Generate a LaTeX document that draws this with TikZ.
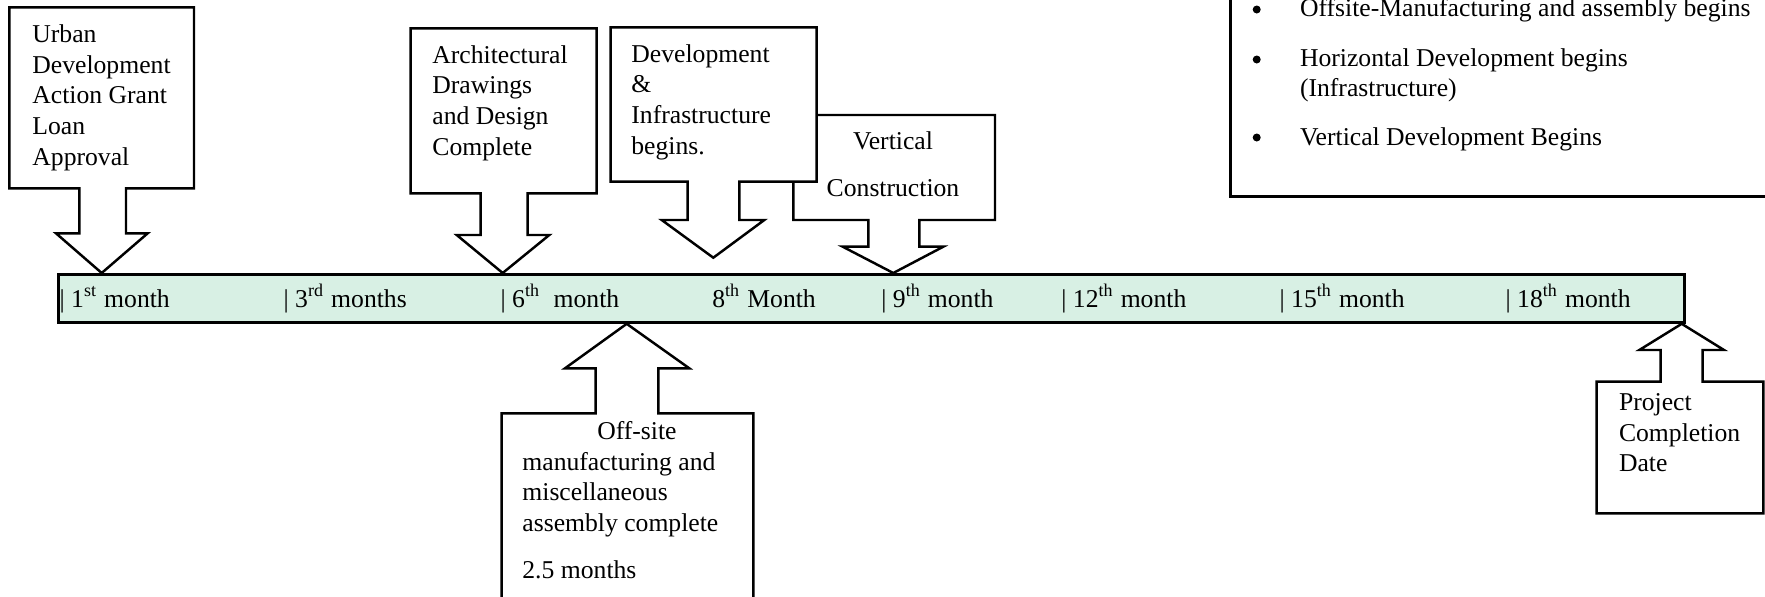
\documentclass[tikz,border=0pt]{standalone}
\usepackage{fontspec}
\setmainfont{Liberation Serif}
\usetikzlibrary{positioning, calc}
\definecolor{barmint}{RGB}{216,240,228}

\begin{document}
\begin{tikzpicture}[x=0.1mm, y=-0.1mm,
    callout/.style={draw, line width=0.7pt, fill=white},
    txt/.style={inner sep=0pt, anchor=base west, align=left,
      font=\fontsize{7.3}{8.7}\selectfont},
    monthlbl/.style={inner sep=0pt, anchor=base west,
      font=\fontsize{7.3}{8.7}\selectfont}]
  \useasboundingbox (0,0) rectangle (1765,597);

  % --- Timeline bar ---
  \node[draw, line width=0.8pt, fill=barmint, inner sep=0pt, anchor=north west,
    minimum width=162.6mm, minimum height=4.8mm] (bar) at (57,273) {};
  \foreach \x/\lbl [count=\i] in {59/{| 1\textsuperscript{st} month},
      283/{| 3\textsuperscript{rd} months}, 500/{| 6\textsuperscript{th}\ \ month},
      711.7/{8\textsuperscript{th} Month}, 880.7/{| 9\textsuperscript{th} month},
      1060.7/{| 12\textsuperscript{th} month}, 1279/{| 15\textsuperscript{th} month},
      1505/{| 18\textsuperscript{th} month}}
    \node[monthlbl] (m\i) at (\x,307) {\lbl};

  % --- Callouts above the bar (text anchored on its last line) ---
  \draw[callout] (9.3,7.3) -- (194,7.3) -- (194,188.3) -- (126,188.3) -- (126,233.3)
    -- (147.7,233.3) -- (101.7,0 |- bar.north) -- (56,233.3) -- (79.3,233.3)
    -- (79.3,188.3) -- (9.3,188.3) -- cycle;
  \node[txt] (urban) at (31.7,165) {Urban\\Development\\Action Grant\\Loan\\Approval};

  \draw[callout] (410.7,28.3) -- (596.7,28.3) -- (596.7,193.3) -- (527.7,193.3)
    -- (527.7,235) -- (549.3,235) -- (502.7,0 |- bar.north) -- (456.7,235)
    -- (480.7,235) -- (480.7,193.3) -- (410.7,193.3) -- cycle;
  \node[txt] (arch) at (431.7,155) {Architectural\\Drawings\\and Design\\Complete};

  % vertical construction sits behind the infrastructure box
  \draw[callout] (793.3,115) -- (995,115) -- (995,220) -- (919.3,220) -- (919.3,246.7)
    -- (943.3,246.7) -- (893.3,0 |- bar.north) -- (842.7,246.7) -- (868.3,246.7)
    -- (868.3,220) -- (793.3,220) -- cycle;
  \node[txt, anchor=base, align=center] (vert) at (893,196.7) {Vertical\\[4.6pt]Construction};

  \draw[callout] (610.7,27.3) -- (816.7,27.3) -- (816.7,181.7) -- (739.3,181.7)
    -- (739.3,220) -- (764.3,220) -- (713.3,257.7) -- (661.7,220) -- (687.7,220)
    -- (687.7,181.7) -- (610.7,181.7) -- cycle;
  \node[txt] (devinfra) at (630.7,154) {Development\\\&\\Infrastructure\\begins.};

  % --- Callouts below the bar ---
  \draw[callout] (501.7,597) -- (501.7,413.3) -- (595.7,413.3) -- (595.7,368.3)
    -- (565,368.3) -- (626.7,0 |- bar.south) -- (689.3,368.3) -- (658.3,368.3)
    -- (658.3,413.3) -- (753.3,413.3) -- (753.3,597);
  \node[txt] (offsite) at (521.7,578.3) {\hspace*{21.3pt}Off-site\\manufacturing and\\
    miscellaneous\\assembly complete\\[4.6pt]2.5 months};

  \draw[callout] (1596.7,513.3) -- (1596.7,381.7) -- (1660.7,381.7) -- (1660.7,350)
    -- (1639.3,350) -- (1681.7,0 |- bar.south) -- (1724,350) -- (1702.7,350)
    -- (1702.7,381.7) -- (1763.3,381.7) -- (1763.3,513.3) -- cycle;
  \node[txt] (project) at (1618.3,471.7) {Project\\Completion\\Date};

  % --- Legend (cut by the page edge) ---
  \draw[line width=0.7pt] (1230.7,0) -- (1230.7,196.7) -- (1765,196.7);
  \node[txt] (legend) at (1299.3,145) {Offsite-Manufacturing and assembly begins\\[5.5pt]
    Horizontal Development begins\\(Infrastructure)\\[5pt]Vertical Development Begins};
  \foreach \y [count=\i] in {9.5,59.5,137.5}
    \node[circle, fill, inner sep=0pt, minimum size=0.8mm] (dot\i) at (1256.7,\y) {};
\end{tikzpicture}
\end{document}
